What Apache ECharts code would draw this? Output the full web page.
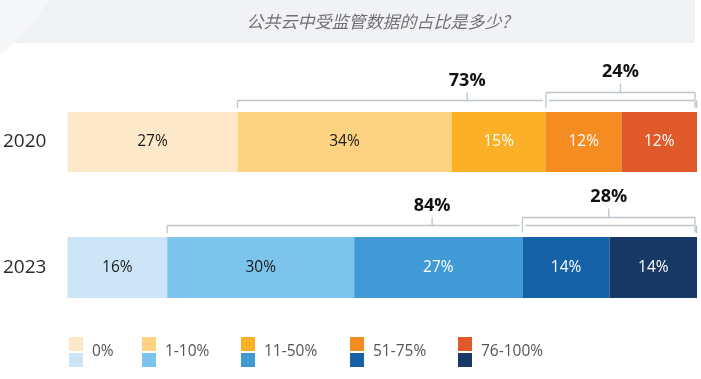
<!DOCTYPE html>
<html>
<head>
<meta charset="utf-8">
<script src="https://cdn.jsdelivr.net/npm/echarts@6/dist/echarts.min.js"></script>
<style>
html,body{margin:0;padding:0;background:#fff;}
#c{width:701px;height:379px;}
</style>
</head>
<body>
<div id="c"></div>
<script>
const title = '公共云中受监管数据的占比是多少?';
const categories = ['2020', '2023'];
const legendNames = ['0%', '1-10%', '11-50%', '51-75%', '76-100%'];
const values2020 = [27, 34, 15, 12, 12];
const values2023 = [16, 30, 27, 14, 14];
const bracketLabels2020 = ['73%', '24%'];
const bracketLabels2023 = ['84%', '28%'];
const colors2020 = ['#fde9c9', '#fdd280', '#fbb027', '#f58c22', '#e0592a'];
const colors2023 = ['#cce6f7', '#7dc4ec', '#409ad5', '#1662a8', '#183865'];
const labelColors2020 = ['#1a1a1a', '#1a1a1a', '#ffffff', '#ffffff', '#ffffff'];
const labelColors2023 = ['#1a1a1a', '#1a1a1a', '#ffffff', '#ffffff', '#ffffff'];
// bracket spans: start segment index (to end of bar)
const bigBracketStart = 1;
const smallBracketStart = 3;

const FONT = '"Open Sans", "Noto Sans", sans-serif';
const rows = [
  {name: categories[0], values: values2020, colors: colors2020, labelColors: labelColors2020, brackets: bracketLabels2020, top: 112, height: 60},
  {name: categories[1], values: values2023, colors: colors2023, labelColors: labelColors2023, brackets: bracketLabels2023, top: 237, height: 61}
];

const grids = [], xAxes = [], yAxes = [], series = [];
rows.forEach((r, gi) => {
  const sum = r.values.reduce((a, b) => a + b, 0);
  grids.push({left: 67, right: 4, top: r.top, height: r.height});
  xAxes.push({type: 'value', gridIndex: gi, min: 0, max: sum, show: false});
  yAxes.push({
    type: 'category', gridIndex: gi, data: [r.name],
    axisLine: {show: false}, axisTick: {show: false},
    axisLabel: {fontSize: 19, color: '#2b2b2b', margin: 21, fontFamily: FONT, padding: [10, 0, 0, 0]}
  });
  r.values.forEach((v, i) => {
    series.push({
      type: 'bar', name: legendNames[i] + ' ' + r.name,
      xAxisIndex: gi, yAxisIndex: gi, stack: 's' + gi,
      barWidth: '100%', data: [v],
      itemStyle: {color: r.colors[i]},
      label: {show: true, position: 'inside', formatter: '{c}%', color: r.labelColors[i], fontSize: 15.5, fontFamily: FONT, padding: [6, 0, 0, 0]},
      emphasis: {disabled: true}, animation: false
    });
  });
});

const chart = echarts.init(document.getElementById('c'), null, {renderer: 'canvas'});
chart.setOption({
  animation: false,
  grid: grids, xAxis: xAxes, yAxis: yAxes, series: series
});

const LINE = '#bcc4cc';
const graphics = [];
// title band
graphics.push({type: 'rect', shape: {x: 0, y: 0, width: 695, height: 43}, style: {fill: '#f0f2f5'}, z: 1});
graphics.push({type: 'circle', shape: {cx: -120, cy: -100, r: 196}, style: {fill: '#f6f7f8'}, z: 2});
graphics.push({type: 'text', x: 378, y: 22, style: {text: title, fill: '#707070', font: 'italic 17px "Noto Sans CJK SC", sans-serif', align: 'center', verticalAlign: 'middle'}, z: 3});

function px(gi, v) { return chart.convertToPixel({gridIndex: gi}, [v, rows[gi].name])[0]; }
function line(x1, y1, x2, y2) {
  return {type: 'line', shape: {x1: x1, y1: y1, x2: x2, y2: y2}, style: {stroke: LINE, lineWidth: 1.3}, z: 5};
}
rows.forEach((r, gi) => {
  const cum = [0];
  r.values.forEach(v => cum.push(cum[cum.length - 1] + v));
  const top = r.top;
  const xEnd = px(gi, cum[cum.length - 1]);
  // big bracket
  const bx1 = px(gi, cum[bigBracketStart]);
  const sx1 = px(gi, cum[smallBracketStart]);
  const by = top - 11.5;
  graphics.push(line(bx1, by, sx1 - 3, by));
  graphics.push(line(sx1 + 3, by, xEnd - 3, by));
  graphics.push(line(bx1, by, bx1, top - 4));
  graphics.push(line(xEnd - 0.5, by, xEnd - 0.5, top - 4));
  const bc = (bx1 + xEnd) / 2;
  graphics.push(line(bc, by, bc, top - 19.5));
  graphics.push({type: 'text', x: bc, y: top - 31, style: {text: r.brackets[0], fill: '#111', font: 'bold 18px ' + FONT, align: 'center', verticalAlign: 'middle'}, z: 5});
  // small bracket
  const sy = top - 19.5;
  const sx2 = xEnd - 2;
  graphics.push(line(sx1, sy, sx2, sy));
  graphics.push(line(sx1, sy, sx1, top - 4.5));
  graphics.push(line(sx2, sy, sx2, top - 4.5));
  const sc = (sx1 + sx2) / 2;
  graphics.push(line(sc, sy, sc, top - 28.5));
  graphics.push({type: 'text', x: sc, y: top - 40, style: {text: r.brackets[1], fill: '#111', font: 'bold 18px ' + FONT, align: 'center', verticalAlign: 'middle'}, z: 5});
});

// legend
const legendX = [69, 142, 241, 350, 458];
legendNames.forEach((n, i) => {
  const x = legendX[i];
  graphics.push({type: 'rect', shape: {x: x, y: 337, width: 14, height: 14}, style: {fill: colors2020[i]}, z: 5});
  graphics.push({type: 'rect', shape: {x: x, y: 353, width: 14, height: 14}, style: {fill: colors2023[i]}, z: 5});
  graphics.push({type: 'text', x: x + 23, y: 352, style: {text: n, fill: '#555', font: '15.5px ' + FONT, verticalAlign: 'middle'}, z: 5});
});

chart.setOption({graphic: graphics});
</script>
</body>
</html>
